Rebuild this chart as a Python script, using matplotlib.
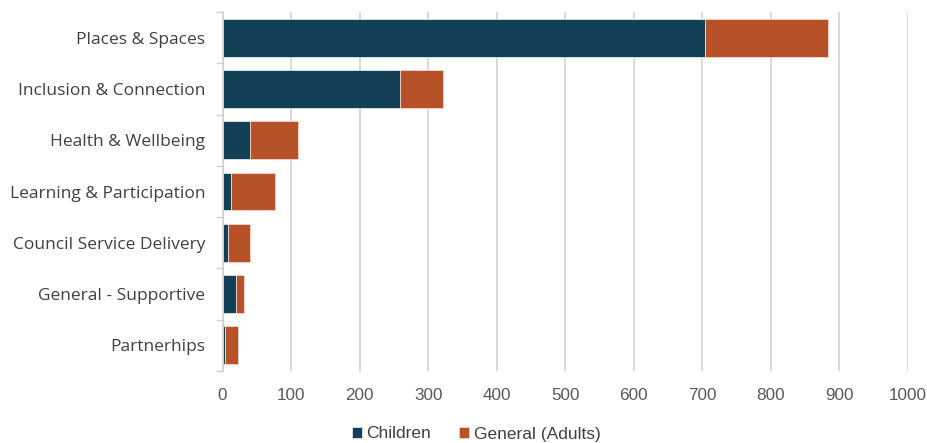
import matplotlib.pyplot as plt
import numpy as np

categories = ['Places & Spaces', 'Inclusion & Connection', 'Health & Wellbeing',
              'Learning & Participation', 'Council Service Delivery',
              'General - Supportive', 'Partnerhips']
children = [704, 259, 40, 12, 8, 20, 4]
adults = [179, 63, 70, 65, 32, 12, 19]
xticks = [0, 100, 200, 300, 400, 500, 600, 700, 800, 900, 1000]

navy = '#134057'
orange = '#B75228'
tickfont = 'Liberation Sans'

fig = plt.figure(figsize=(9.28, 4.43), dpi=100)
ax = fig.add_axes([0.2398, 0.1625, 0.7386, 0.8104])

y = np.arange(len(categories))
ax.barh(y, children, height=0.74, color=navy, edgecolor='#dfe6ea', linewidth=0.6,
        label='Children', zorder=3)
ax.barh(y, adults, left=children, height=0.74, color=orange, edgecolor='#f3d6cb',
        linewidth=0.6, label='General (Adults)', zorder=3)

ax.set_xlim(0, 1000)
ax.set_ylim(len(categories) - 0.5, -0.5)
ax.set_xticks(xticks)
ax.set_xticklabels([str(t) for t in xticks], family=tickfont, fontsize=12.3, color='#595959')
ax.tick_params(axis='x', length=0, pad=12)

# category labels in the middle, small ticks at the boundaries
ax.set_yticks(y)
ax.set_yticklabels(categories, family='Open Sans', fontsize=12.5, color='#404040')
ax.set_yticks(np.arange(len(categories) + 1) - 0.5, minor=True)
ax.tick_params(axis='y', which='major', length=0, pad=12.5)
ax.tick_params(axis='y', which='minor', length=5, color='#d0d0d0', width=1)

ax.grid(axis='x', color='#d9d9d9', linewidth=1.4, zorder=0)
for s in ['top', 'right', 'bottom']:
    ax.spines[s].set_visible(False)
ax.spines['left'].set_color('#d0d0d0')
ax.spines['left'].set_linewidth(1.2)
ax.spines['left'].set_zorder(4)

fig.legend(loc='center', bbox_to_anchor=(476 / 928, 1 - 434 / 443), ncol=2, frameon=False,
           prop={'family': tickfont, 'size': 12.5}, labelcolor='#404040',
           handlelength=0.6, handleheight=0.6, handletextpad=0.25, columnspacing=1.6)

fig.savefig('out.png', dpi=100)
